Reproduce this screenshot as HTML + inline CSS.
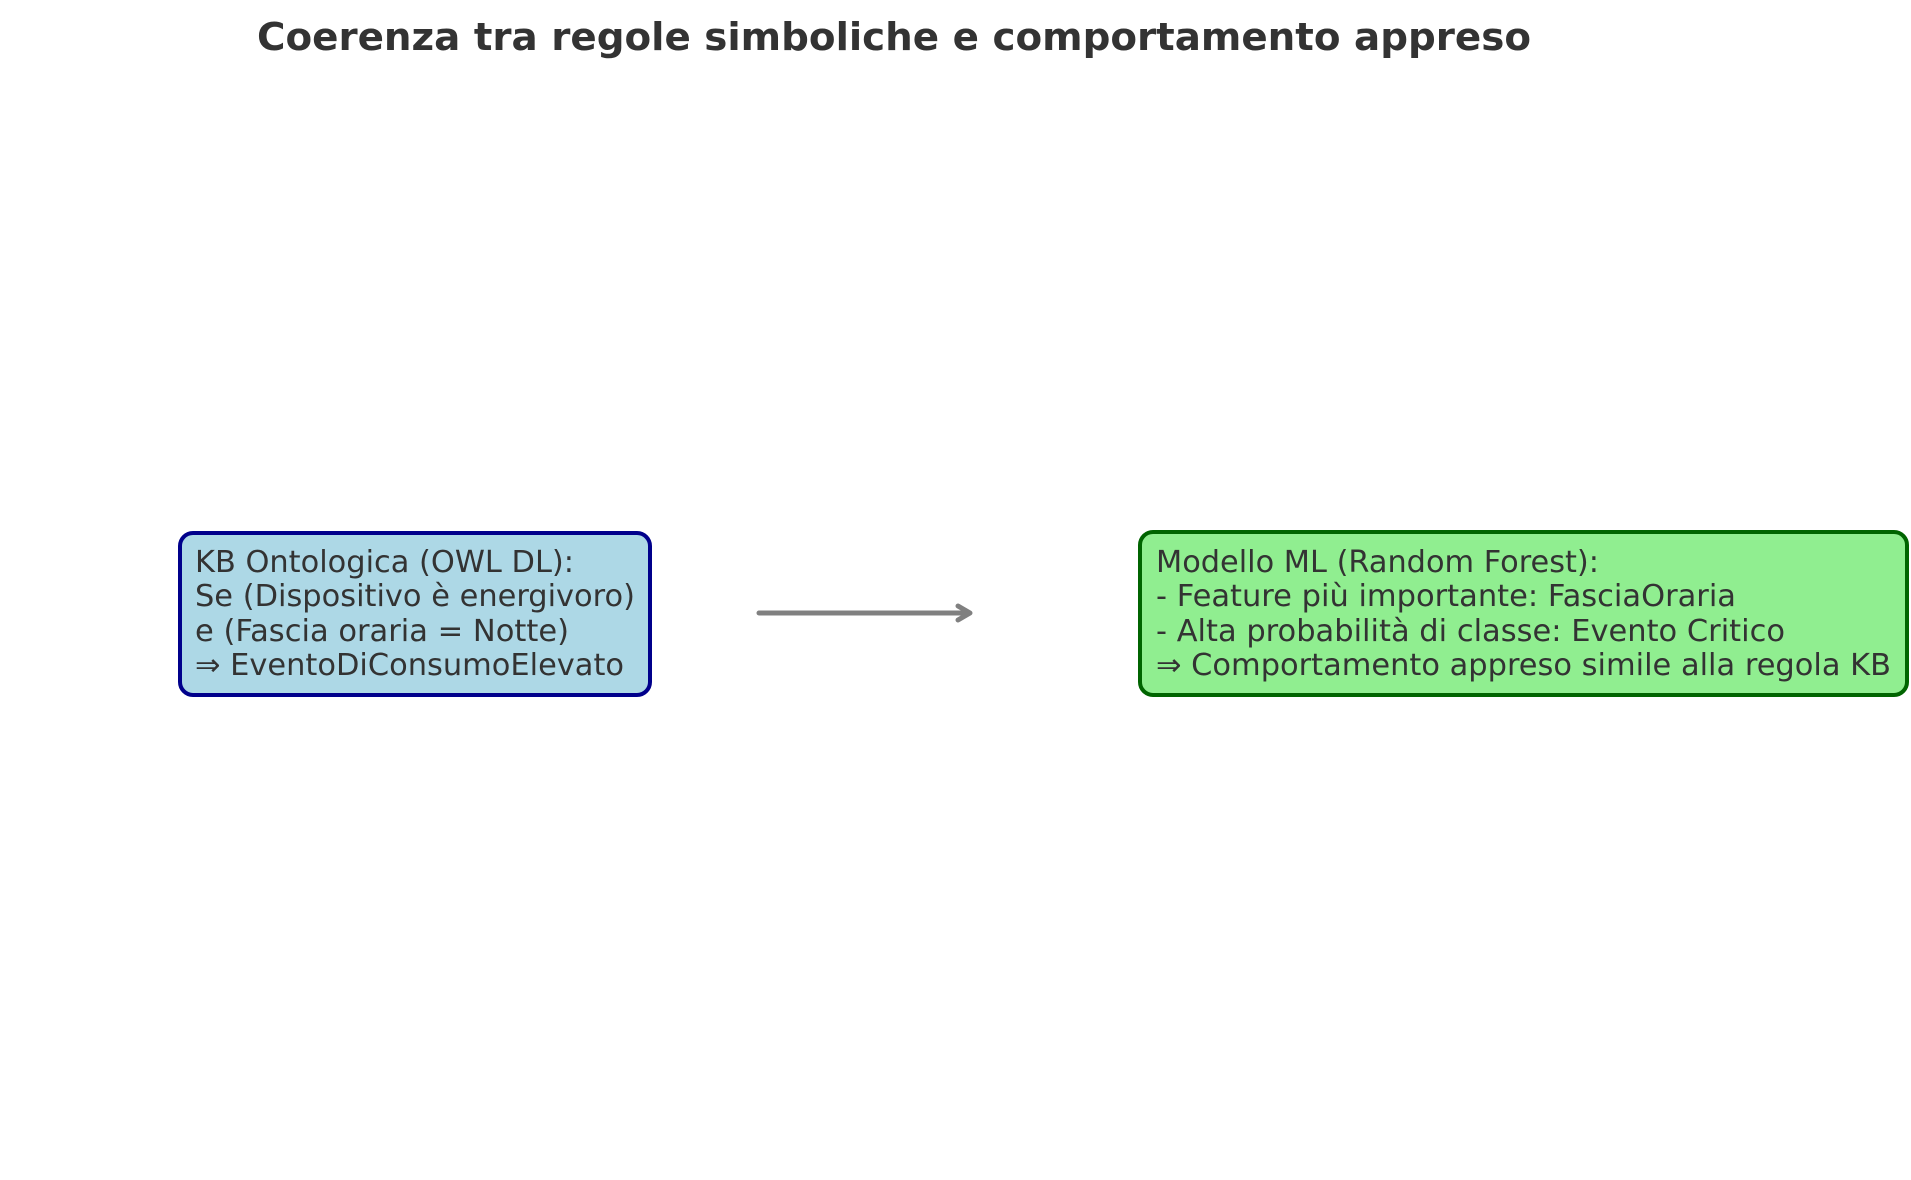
<!DOCTYPE html>
<html><head><meta charset="utf-8"><style>html,body{margin:0;padding:0;background:#fff}svg{display:block}</style></head>
<body>
<svg width="1911" height="1180" xmlns="http://www.w3.org/2000/svg" font-family="DejaVu Sans, Liberation Sans, sans-serif" fill="#333">
<text x="257" y="50" font-size="38" font-weight="bold" textLength="1274" lengthAdjust="spacingAndGlyphs">Coerenza tra regole simboliche e comportamento appreso</text>
<rect x="180" y="533" width="470" height="162" rx="13" fill="#add8e6" stroke="#00008b" stroke-width="4"/>
<g font-size="30">
<text x="195" y="572" textLength="379" lengthAdjust="spacingAndGlyphs">KB Ontologica (OWL DL):</text>
<text x="195" y="606" textLength="440" lengthAdjust="spacingAndGlyphs">Se (Dispositivo è energivoro)</text>
<text x="195" y="641" textLength="374" lengthAdjust="spacingAndGlyphs">e (Fascia oraria = Notte)</text>
<text x="195" y="675" textLength="429" lengthAdjust="spacingAndGlyphs">⇒ EventoDiConsumoElevato</text>
</g>
<rect x="1140" y="532" width="767" height="163" rx="13" fill="#90ee90" stroke="#006400" stroke-width="4"/>
<g font-size="30">
<text x="1156" y="572" textLength="443" lengthAdjust="spacingAndGlyphs">Modello ML (Random Forest):</text>
<text x="1156" y="606" textLength="580" lengthAdjust="spacingAndGlyphs">- Feature più importante: FasciaOraria</text>
<text x="1156" y="641" textLength="629" lengthAdjust="spacingAndGlyphs">- Alta probabilità di classe: Evento Critico</text>
<text x="1156" y="675" textLength="735" lengthAdjust="spacingAndGlyphs">⇒ Comportamento appreso simile alla regola KB</text>
</g>
<line x1="759" y1="613" x2="968" y2="613" stroke="#808080" stroke-width="5" stroke-linecap="round"/>
<polyline points="958,606 970,613 958,620" fill="none" stroke="#808080" stroke-width="5" stroke-linecap="round" stroke-linejoin="round"/>
</svg>
</body></html>
